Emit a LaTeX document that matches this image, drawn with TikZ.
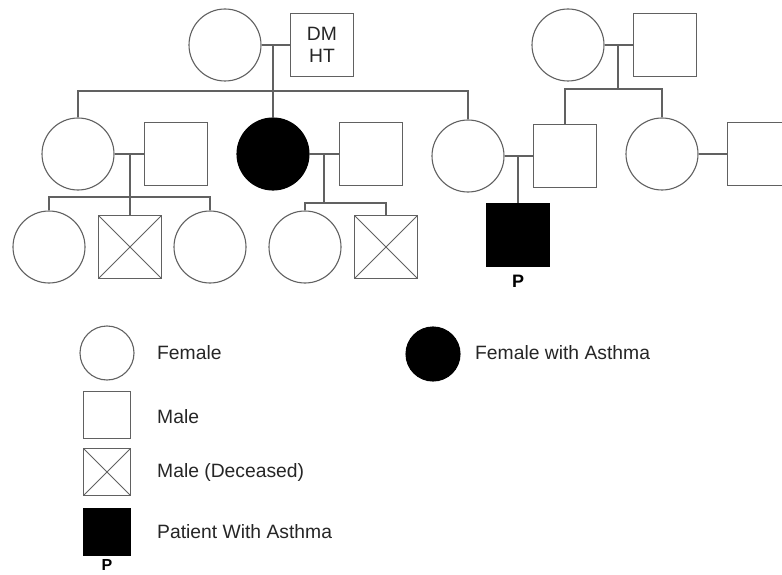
\documentclass[tikz,border=0pt]{standalone}
\usepackage{fontspec}
\setmainfont{Liberation Sans}
\begin{document}
\begin{tikzpicture}[x=1pt,y=-1pt,
  ln/.style={draw=black!62,line width=1.1pt},
  fem/.style={circle,ln,fill=white,minimum size=72pt,inner sep=0pt},
  mal/.style={rectangle,ln,fill=white,minimum size=63pt,inner sep=0pt},
  dead/.style={mal,path picture={\draw[black!62,line width=1pt]
     (path picture bounding box.north west)--(path picture bounding box.south east)
     (path picture bounding box.north east)--(path picture bounding box.south west);}},
  affF/.style={fem,fill=black,draw=black},
  affM/.style={mal,fill=black,draw=black},
  lfem/.style={fem,minimum size=54pt},
  lmal/.style={mal,minimum size=47pt},
  ldead/.style={dead,minimum size=47pt},
  laffF/.style={affF,minimum size=54pt},
  laffM/.style={affM,minimum size=47pt},
  lbl/.style={anchor=west,text=black!85,font=\fontsize{19.3}{22}\selectfont,inner sep=0pt},
  plbl/.style={font=\fontsize{18}{20}\selectfont\bfseries,inner sep=0pt},
  con/.style={draw=black!62,line width=1.1pt}
]
\useasboundingbox (0,0) rectangle (782,575);
\clip (0,0) rectangle (782,575);
\fill[white] (0,0) rectangle (782,575);

% Generation I
\node[fem] (gm1) at (225,45) {};
\node[mal,align=center,text=black!85,font=\fontsize{19.3}{22}\selectfont] (gf1) at (322,45) {DM\\HT};
\node[fem] (gm2) at (568,45) {};
\node[mal] (gf2) at (665,45) {};

% Generation II
\node[fem] (a1) at (78,154) {};
\node[mal] (a1h) at (176,154) {};
\node[affF] (a2) at (273,154) {};
\node[mal] (a2h) at (371,154) {};
\node[fem] (a3) at (468,156) {};
\node[mal] (a3h) at (565,156) {};
\node[fem] (b1) at (662,154) {};
\node[mal] (b1h) at (759,154) {};

% Generation III
\node[fem] (c1) at (49,247) {};
\node[dead] (c2) at (130,247) {};
\node[fem] (c3) at (210,247) {};
\node[fem] (d1) at (305,247) {};
\node[dead] (d2) at (386,247) {};
\node[affM] (p) at (518,235) {};
\node[plbl] (pl) at (518,281) {P};

% connectors
\coordinate (m1) at (273,45);
\coordinate (s1) at (273,91);
\draw[con] (gm1.east) -- (gf1.west);
\draw[con] (m1) -- (a2.north);
\draw[con] (a1.north) |- (s1) -| (a3.north);

\coordinate (m5) at (618,45);
\coordinate (s5) at (618,89);
\draw[con] (gm2.east) -- (gf2.west);
\draw[con] (m5) -- (s5);
\draw[con] (a3h.north) |- (s5) -| (b1.north);

\coordinate (m2) at (130,154);
\coordinate (s2) at (130,197);
\draw[con] (a1.east) -- (a1h.west);
\draw[con] (m2) -- (c2.north);
\draw[con] (c1.north) |- (s2) -| (c3.north);

\coordinate (m3) at (324,154);
\coordinate (s3) at (324,203);
\draw[con] (a2.east) -- (a2h.west);
\draw[con] (m3) -- (s3);
\draw[con] (d1.north) |- (s3) -| (d2.north);

\coordinate (m4) at (518,156);
\draw[con] (a3.east) -- (a3h.west);
\draw[con] (m4) -- (p.north);

\draw[con] (b1.east) -- (b1h.west);

% Legend
\node[lfem] (L1) at (107,353) {};
\node[lbl] (T1) at (157,353) {Female};
\node[lmal] (L2) at (107,415) {};
\node[lbl] (T2) at (157,417) {Male};
\node[ldead] (L3) at (107,472) {};
\node[lbl] (T3) at (157,473) {Male (Deceased)};
\node[laffM] (L4) at (107,532) {};
\node[lbl] (T4) at (157,532) {Patient With Asthma};
\node[plbl,font=\fontsize{16}{18}\selectfont\bfseries] (LP) at (107,565) {P};
\node[laffF] (L5) at (433,354) {};
\node[lbl] (T5) at (475,353) {Female with Asthma};
\end{tikzpicture}
\end{document}
